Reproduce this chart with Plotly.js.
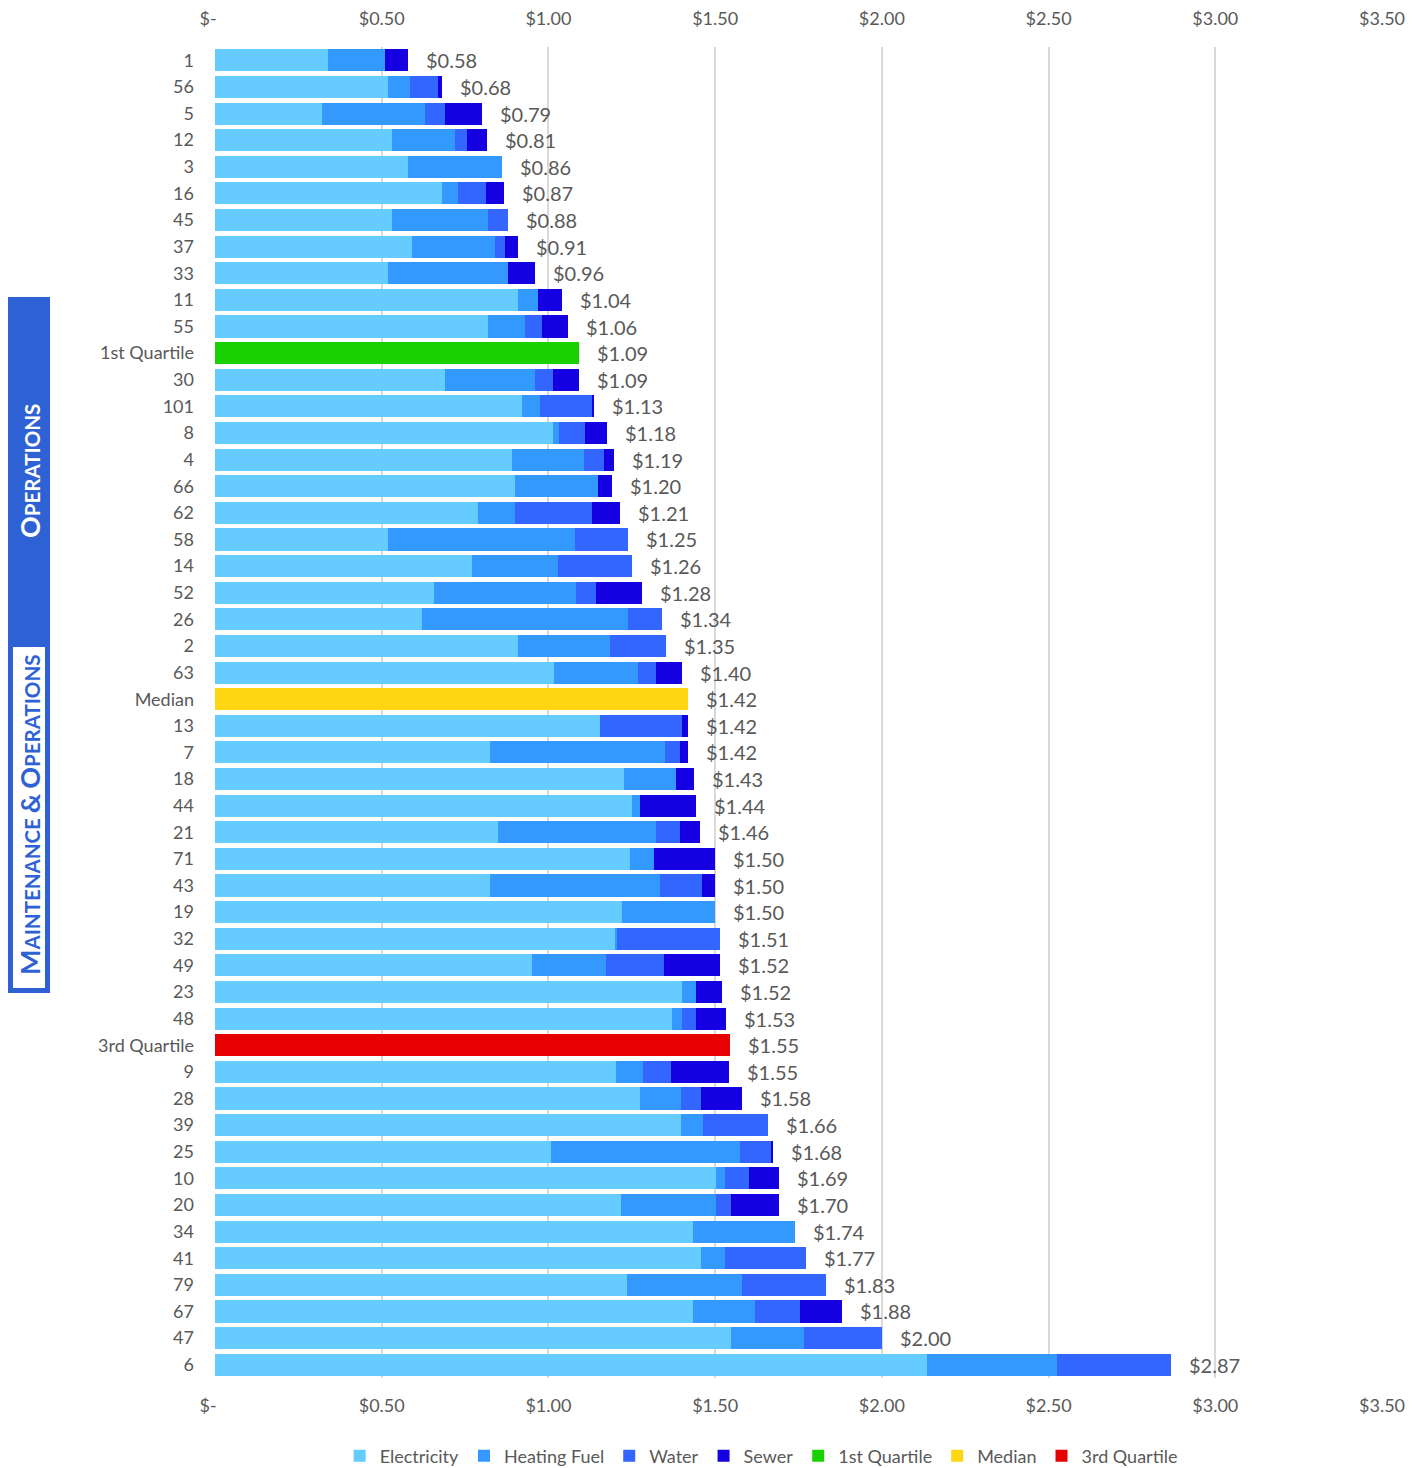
<!DOCTYPE html>
<html>
<head>
<meta charset="utf-8">
<script src="https://cdn.plot.ly/plotly-3.0.1.min.js"></script>
<style>html,body{margin:0;padding:0;background:#fff;}#chart{width:1418px;height:1468px;}</style>
</head>
<body>
<div id="chart"></div>
<script>
// Schools in display order (top to bottom), excluding quartile marker rows
const schools = ['1','56','5','12','3','16','45','37','33','11','55','30','101','8','4','66','62','58','14','52','26','2','63','13','7','18','44','21','71','43','19','32','49','23','48','9','28','39','25','10','20','34','41','79','67','47','6'];
const electricity = [0.34,0.52,0.32,0.53,0.58,0.68,0.53,0.59,0.52,0.91,0.82,0.69,0.92,1.015,0.89,0.90,0.79,0.52,0.77,0.656,0.62,0.91,1.017,1.155,0.824,1.226,1.25,0.848,1.244,0.824,1.22,1.201,0.95,1.40,1.37,1.202,1.274,1.399,1.009,1.502,1.218,1.434,1.459,1.237,1.434,1.549,2.136];
const heatingFuel = [0.17,0.066,0.31,0.19,0.28,0.048,0.29,0.25,0.36,0.06,0.11,0.27,0.056,0.018,0.217,0.25,0.11,0.56,0.26,0.426,0.62,0.276,0.251,0,0.527,0.156,0.024,0.474,0.073,0.51,0.281,0.006,0.222,0.043,0.03,0.082,0.125,0.066,0.565,0.029,0.284,0.306,0.072,0.343,0.187,0.216,0.39];
const water = [0,0.084,0.06,0.036,0,0.084,0.06,0.03,0,0,0.05,0.054,0.155,0.078,0.06,0,0.23,0.16,0.22,0.06,0.10,0.168,0.054,0.245,0.043,0,0,0.072,0,0.126,0,0.307,0.174,0,0.043,0.084,0.06,0.193,0.094,0.072,0.047,0,0.24,0.251,0.132,0.235,0.342];
const sewer = [0.07,0.012,0.11,0.06,0,0.054,0,0.04,0.08,0.07,0.08,0.078,0.007,0.066,0.03,0.042,0.085,0,0,0.138,0,0,0.078,0.018,0.024,0.054,0.169,0.061,0.184,0.041,0,0,0.168,0.077,0.089,0.175,0.121,0,0.007,0.09,0.144,0,0,0,0.127,0,0];
const totalLabels = [0.58,0.68,0.79,0.81,0.86,0.87,0.88,0.91,0.96,1.04,1.06,1.09,1.13,1.18,1.19,1.20,1.21,1.25,1.26,1.28,1.34,1.35,1.40,1.42,1.42,1.43,1.44,1.46,1.50,1.50,1.50,1.51,1.52,1.52,1.53,1.55,1.58,1.66,1.68,1.69,1.70,1.74,1.77,1.83,1.88,2.00,2.87];

// Quartile marker rows
const quartileNames = ['1st Quartile','Median','3rd Quartile'];
const quartileValues = [1.092, 1.418, 1.545];
const quartileLabels = [1.09, 1.42, 1.55];
const quartileAfter = ['55','63','48']; // row each marker follows

// Axis ticks
const tickVals = [0,0.5,1,1.5,2,2.5,3,3.5];
const tickText = ['$-\u00a0\u00a0\u00a0','$0.50','$1.00','$1.50','$2.00','$2.50','$3.00','$3.50'];

// Build category order
const order = [];
schools.forEach(s => {
  order.push(s);
  const qi = quartileAfter.indexOf(s);
  if (qi >= 0) order.push(quartileNames[qi]);
});

const FONT = 'Lato, "Open Sans", sans-serif';
const GREY = '#595959';
const colors = {elec:'#66CCFF', heat:'#3399FF', water:'#3366FF', sewer:'#1400E0', q1:'#1AD100', med:'#FFD611', q3:'#E60000'};

const common = {type:'bar', orientation:'h', y:schools, hoverinfo:'x+name'};
const traces = [
  Object.assign({}, common, {name:'Electricity', x:electricity, marker:{color:colors.elec}}),
  Object.assign({}, common, {name:'Heating Fuel', x:heatingFuel, marker:{color:colors.heat}}),
  Object.assign({}, common, {name:'Water', x:water, marker:{color:colors.water}}),
  Object.assign({}, common, {name:'Sewer', x:sewer, marker:{color:colors.sewer}}),
  {type:'bar', orientation:'h', name:'1st Quartile', y:[quartileNames[0]], x:[quartileValues[0]], marker:{color:colors.q1}},
  {type:'bar', orientation:'h', name:'Median', y:[quartileNames[1]], x:[quartileValues[1]], marker:{color:colors.med}},
  {type:'bar', orientation:'h', name:'3rd Quartile', y:[quartileNames[2]], x:[quartileValues[2]], marker:{color:colors.q3}},
  {type:'scatter', mode:'markers', x:[0], y:[schools[0]], xaxis:'x2', yaxis:'y', marker:{opacity:0}, showlegend:false, hoverinfo:'skip'}
];

// Value labels (y given as category index)
const annotations = [];
schools.forEach((s, i) => {
  const end = electricity[i] + heatingFuel[i] + water[i] + sewer[i];
  annotations.push({x:end, y:order.indexOf(s), xref:'x', yref:'y', text:'$' + totalLabels[i].toFixed(2), showarrow:false,
    xanchor:'left', yanchor:'middle', xshift:16, font:{family:FONT, size:20, color:GREY}});
});
quartileNames.forEach((q, i) => {
  annotations.push({x:quartileValues[i], y:order.indexOf(q), xref:'x', yref:'y', text:'$' + quartileLabels[i].toFixed(2), showarrow:false,
    xanchor:'left', yanchor:'middle', xshift:16, font:{family:FONT, size:20, color:GREY}});
});

// Side label (pixel -> paper helpers)
const L = 215, R = 36, T = 47, B = 90, W = 1418, H = 1468;
const pw = W - L - R, ph = H - T - B;
const px = x => (x - L) / pw;
const py = y => (H - B - y) / ph;
const BLUE = '#2E62D4';
const shapes = [
  {type:'rect', xref:'paper', yref:'paper', x0:px(8), x1:px(50), y0:py(993), y1:py(297), fillcolor:BLUE, line:{width:0}, layer:'above'},
  {type:'rect', xref:'paper', yref:'paper', x0:px(13), x1:px(45), y0:py(988), y1:py(647), fillcolor:'#FFFFFF', line:{width:0}, layer:'above'}
];
const big = 'font-size:27px', small = 'font-size:20.5px';
annotations.push({xref:'paper', yref:'paper', x:px(29), y:py(471), xanchor:'center', yanchor:'middle', textangle:-90, showarrow:false,
  text:'<b><span style="'+big+'">O</span><span style="'+small+'">PERATIONS</span></b>',
  font:{family:FONT, size:20, color:'#FFFFFF'}});
annotations.push({xref:'paper', yref:'paper', x:px(29), y:py(815), xanchor:'center', yanchor:'middle', textangle:-90, showarrow:false,
  text:'<b><span style="'+big+'">M</span><span style="'+small+'">AINTENANCE</span> <span style="'+big+'">&amp;</span> <span style="'+big+'">O</span><span style="'+small+'">PERATIONS</span></b>',
  font:{family:FONT, size:20, color:BLUE}});

const xaxisBase = {range:[0,3.5], tickmode:'array', tickvals:tickVals, ticktext:tickText, ticks:'', automargin:false,
  tickfont:{family:FONT, size:18, color:GREY}, zeroline:false, showline:false, fixedrange:true};

const layout = {
  width:W, height:H,
  margin:{l:L, r:R, t:T, b:B, autoexpand:false},
  paper_bgcolor:'#FFFFFF', plot_bgcolor:'#FFFFFF',
  barmode:'stack', bargap:0.17,
  font:{family:FONT, color:GREY},
  xaxis:Object.assign({}, xaxisBase, {showgrid:true, gridcolor:'#D9D9D9', gridwidth:2, ticklabelstandoff:15}),
  xaxis2:Object.assign({}, xaxisBase, {overlaying:'x', side:'top', showgrid:false, ticklabelstandoff:17}),
  yaxis:{type:'category', categoryorder:'array', categoryarray:order, range:[order.length - 0.5, -0.5], autorange:false,
    dtick:1, showgrid:false, automargin:false,
    ticks:'', zeroline:false, showline:false, tickfont:{family:FONT, size:18, color:GREY}, ticklabelstandoff:20, fixedrange:true},
  legend:{orientation:'h', x:0.468, xanchor:'center', yref:'container', y:(H - 1456) / H, yanchor:'middle',
    font:{family:FONT, size:18, color:GREY}, traceorder:'normal'},
  shapes:shapes,
  annotations:annotations,
  showlegend:true
};

Plotly.newPlot('chart', traces, layout, {displayModeBar:false, staticPlot:true});
</script>
</body>
</html>
